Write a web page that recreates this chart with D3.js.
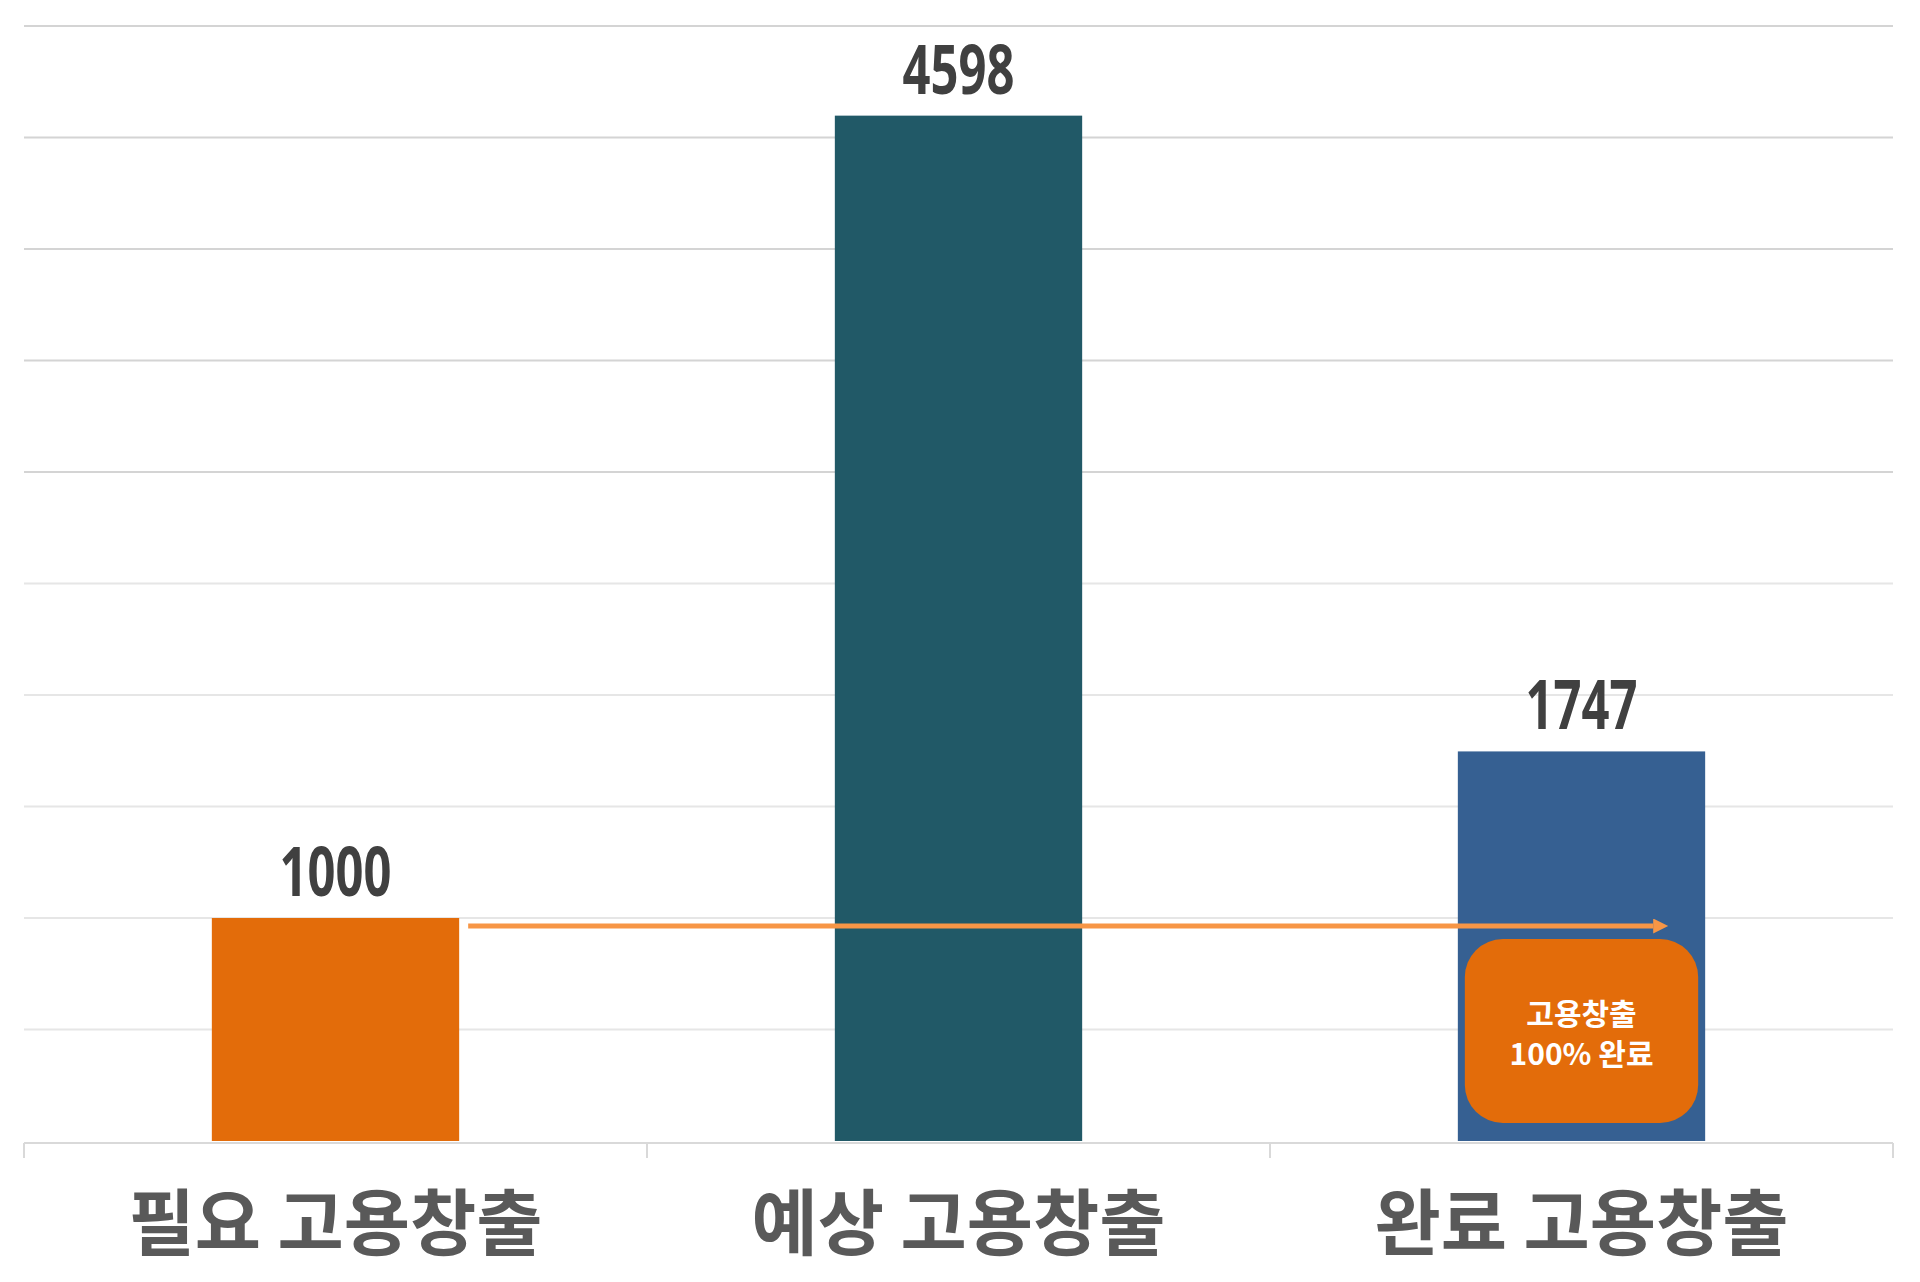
<!DOCTYPE html>
<html><head><meta charset="utf-8">
<script src="https://cdn.jsdelivr.net/npm/d3@7"></script>
<style>body{margin:0;background:#fff}</style>
</head><body><div id="chart"></div>
<script>
const categories = ['필요 고용창출', '예상 고용창출', '완료 고용창출'];
const values = [1000, 4598, 1747];
const barColors = ['#E36C0A', '#215967', '#366092'];
const yTicks = d3.range(0, 5001, 500);
const note = ['고용창출', '100% 완료'];

const W = 1920, H = 1282;
const m = {left: 24, right: 27, top: 26, bottom: 141};
const svg = d3.select('#chart').append('svg').attr('width', W).attr('height', H);
const x = d3.scaleBand().domain(categories).range([m.left, W - m.right]).paddingInner(0).paddingOuter(0);
const y = d3.scaleLinear().domain([0, 5000]).range([H - m.bottom, m.top]);
const bw = x.bandwidth() * 0.397;
const cx = c => x(c) + x.bandwidth() / 2;

// gridlines
svg.append('g').selectAll('line').data(yTicks.filter(t => t > 0)).enter().append('line')
  .attr('x1', m.left).attr('x2', W - m.right)
  .attr('y1', d => y(d)).attr('y2', d => y(d))
  .attr('stroke', d => d >= 3000 ? '#d4d4d4' : '#e6e6e6').attr('stroke-width', 2);

// axis line with category separators
const base = y(0);
svg.append('line').attr('x1', m.left).attr('x2', W - m.right).attr('y1', base + 2).attr('y2', base + 2)
  .attr('stroke', '#d9d9d9').attr('stroke-width', 2);
svg.append('g').selectAll('line').data(categories.concat(['end'])).enter().append('line')
  .attr('x1', (d, i) => i < 3 ? x(d) : W - m.right).attr('x2', (d, i) => i < 3 ? x(d) : W - m.right)
  .attr('y1', base + 2).attr('y2', base + 17).attr('stroke', '#d9d9d9').attr('stroke-width', 2);

// bars
svg.append('g').selectAll('rect').data(values).enter().append('rect')
  .attr('x', (d, i) => cx(categories[i]) - bw / 2).attr('width', bw)
  .attr('y', d => y(d)).attr('height', d => base - y(d))
  .attr('fill', (d, i) => barColors[i]);

// value labels (condensed look via horizontal squeeze)
svg.append('g').selectAll('text').data(values).enter().append('text')
  .attr('transform', (d, i) => `translate(${cx(categories[i])},${y(d) - 22}) scale(0.72,1)`)
  .attr('text-anchor', 'middle').attr('fill', '#404040')
  .style('font-family', '"Noto Sans",sans-serif')
  .style('font-weight', 700).style('font-size', '68px')
  .text(d => d);

// category labels
svg.append('g').selectAll('text').data(categories).enter().append('text')
  .attr('x', d => cx(d)).attr('y', 1249).attr('text-anchor', 'middle').attr('fill', '#595959')
  .style('font-family', '"Noto Sans CJK KR",sans-serif').style('font-weight', 700).style('font-size', '72px')
  .text(d => d);

// arrow from required to completed
const ay = y(1000) + 8;
const defs = svg.append('defs');
defs.append('marker').attr('id', 'ah').attr('viewBox', '0 0 10 10').attr('refX', 0).attr('refY', 5)
  .attr('markerWidth', 3.6).attr('markerHeight', 3).attr('orient', 'auto').attr('markerUnits', 'strokeWidth')
  .append('path').attr('d', 'M0,0L10,5L0,10Z').attr('fill', '#F79646');
svg.append('line').attr('x1', cx(categories[0]) + bw / 2 + 9).attr('x2', cx(categories[2]) + bw / 2 - 52)
  .attr('y1', ay).attr('y2', ay).attr('stroke', '#F79646').attr('stroke-width', 5)
  .attr('marker-end', 'url(#ah)');

// note box
const bx = cx(categories[2]) - bw / 2 + 7, bwid = bw - 14;
svg.append('rect').attr('x', bx).attr('y', 939).attr('width', bwid).attr('height', 184)
  .attr('rx', 38).attr('fill', '#E36C0A');
svg.append('g').selectAll('text').data(note).enter().append('text')
  .attr('x', cx(categories[2])).attr('y', (d, i) => 1025 + i * 40).attr('text-anchor', 'middle')
  .attr('fill', '#fff').style('font-family', '"Noto Sans CJK KR",sans-serif')
  .style('font-weight', 700).style('font-size', '30px').text(d => d);
</script></body></html>
